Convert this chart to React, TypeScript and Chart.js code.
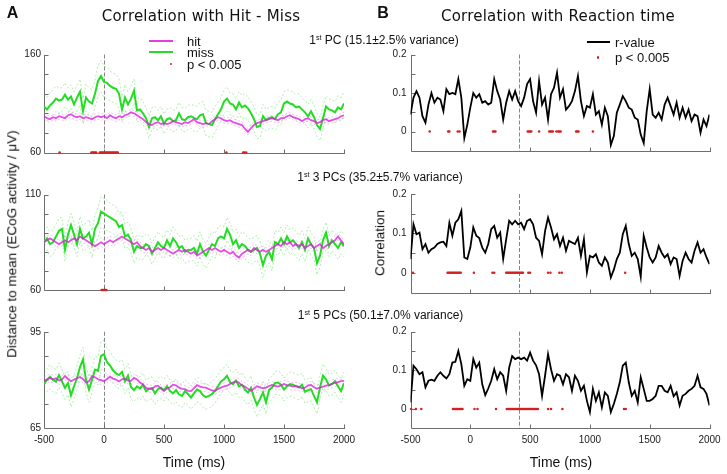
import React, { useEffect, useRef } from "react";
import { Chart, registerables } from "chart.js";

Chart.register(...registerables);

const PAGE_W = 727;
const PAGE_H = 474;

// ---------- data ----------
// sample times (ms), 25 ms apart
const TIME_MS = Array.from({ length: 101 }, (_, i) => -500 + 25 * i);
const X_TICK_STEP = 500;
const X_MIN = -500;
const X_MAX = 2000;
const HM_MARKER_MS = 0;
const RT_MARKER_MS = 410;

// Panel A — distance to mean (µV)
const MISS_PC1 = [
  107, 104, 108, 111, 115, 113, 114, 119, 114, 117,
  109, 116, 122, 102, 116, 112, 110, 120, 133, 138,
  132, 131, 128, 126, 125, 120, 104, 116, 109, 115,
  123, 103, 104, 100, 95, 86, 95, 96, 93, 97,
  89, 94, 95, 92, 93, 100, 94, 93, 96, 97,
  95, 94, 98, 99, 90, 89, 88, 94, 99, 104,
  112, 115, 110, 109, 104, 111, 106, 108, 105, 100,
  94, 86, 87, 97, 93, 95, 96, 94, 99, 101,
  110, 112, 110, 109, 106, 107, 104, 101, 97, 102,
  96, 88, 84, 95, 107, 104, 103, 101, 106, 104,
  110,
];
const HIT_PC1 = [
  97, 95, 94, 96, 95, 97, 96, 95, 98, 99,
  97, 96, 97, 95, 96, 95, 94, 96, 97, 96,
  97, 95, 98, 96, 95, 97, 96, 98, 99, 101,
  100, 98, 96, 94, 91, 89, 88, 90, 91, 89,
  90, 89, 90, 92, 91, 90, 89, 91, 90, 92,
  94, 91, 90, 89, 90, 89, 92, 94, 96, 95,
  93, 92, 93, 91, 90, 89, 88, 84, 81, 85,
  88, 90, 91, 92, 93, 94, 95, 94, 93, 95,
  95, 97, 98, 96, 95, 94, 92, 94, 95, 93,
  92, 90, 91, 93, 94, 92, 93, 94, 95, 97,
  98,
];
const MISS_PC3 = [
  85, 87, 84, 85, 88, 91, 92, 81, 89, 94,
  89, 84, 92, 87, 88, 90, 84, 92, 95, 101,
  100, 99, 98, 97, 96, 93, 94, 88, 89, 86,
  80, 83, 82, 82, 84, 83, 79, 82, 85, 83,
  82, 86, 83, 87, 85, 82, 83, 80, 81, 81,
  82, 79, 84, 80, 78, 81, 84, 83, 87, 88,
  87, 92, 89, 84, 86, 82, 84, 83, 81, 80,
  81, 82, 79, 73, 78, 80, 76, 85, 84, 87,
  84, 88, 85, 86, 84, 82, 85, 81, 87, 84,
  82, 74, 78, 86, 90, 83, 86, 84, 82, 85,
  83,
];
const HIT_PC3 = [
  85, 86, 87, 86, 85, 84, 85, 86, 85, 86,
  87, 86, 88, 87, 86, 85, 84, 83, 84, 85,
  84, 85, 86, 85, 86, 87, 88, 87, 86, 85,
  84, 85, 83, 82, 81, 82, 80, 81, 82, 81,
  82, 81, 80, 79, 80, 81, 80, 81, 80, 79,
  80, 78, 79, 80, 81, 82, 81, 82, 81, 80,
  81, 80, 79, 80, 78, 77, 79, 80, 81, 80,
  82, 81, 80, 81, 80, 81, 82, 83, 84, 83,
  85, 84, 85, 83, 84, 83, 84, 82, 83, 84,
  82, 83, 84, 82, 83, 84, 85, 86, 88, 86,
  84,
];
const MISS_PC5 = [
  78.7, 80, 81, 80, 79.5, 81.5, 79.5, 77.5, 79, 75.2,
  78, 80.5, 84, 86.4, 80, 77, 80, 83.2, 82.8, 87.5,
  88, 85.5, 84.5, 83, 82, 81.5, 82.5, 79.5, 81.3, 77.8,
  76.8, 78, 77.3, 78.5, 76.5, 77.2, 77.5, 75.8, 77.1, 77.6,
  76.8, 78, 76.5, 75.8, 76.8, 75.5, 75, 76.5, 75.6, 74.5,
  75.8, 77, 76.5, 75.2, 74.6, 75, 75.6, 76.6, 78, 79.5,
  80.2, 81.3, 79.3, 78.7, 79.8, 78, 78.5, 77, 76, 77.5,
  74.5, 72.2, 74, 76.1, 73, 76.8, 77.6, 79, 79.2, 78.5,
  77, 78, 78.7, 78.5, 78, 77.6, 78.5, 76.3, 76.8, 77.1,
  75, 73, 77.6, 81.3, 80.2, 78.3, 78.7, 79.6, 78, 76.5,
  79,
];
const HIT_PC5 = [
  79.7, 80.2, 80.6, 80.2, 80.5, 79.8, 80.1, 81.2, 80.3, 79.6,
  80.1, 80.5, 80.9, 80.3, 79.2, 79.6, 81.2, 80.8, 80.2, 79.9,
  79.6, 80.3, 81, 80.4, 80.1, 79.5, 80.2, 80.4, 79.8, 79.7,
  80.6, 80.1, 79.2, 78.6, 77.5, 77.3, 77.1, 78, 78.2, 77.2,
  76.6, 77.3, 77.7, 78.5, 78.3, 77.6, 77.2, 77.1, 76.6, 76.5,
  77.4, 78.4, 77.9, 77.7, 77.6, 77.1, 76.7, 76.6, 77.2, 77.6,
  78, 78.2, 78.7, 79.2, 79.6, 79.1, 78.3, 77.9, 77.2, 76.6,
  77.3, 78, 77.7, 77.4, 77.6, 78.1, 78.4, 78.1, 77.9, 78.3,
  78.7, 78.4, 78.2, 77.9, 78.1, 77.8, 77.4, 77.6, 78.3, 78.4,
  77.7, 77.3, 77.6, 77.9, 78.2, 78.4, 78.8, 79.1, 79.3, 79.6,
  79.7,
];
// standard errors, one value per 100 ms (-500 … 2000)
const SEM_MISS_PC1 = [12, 13, 12, 13, 14, 16, 15, 13, 12, 11, 10, 11, 12, 13, 13, 12, 11, 12, 12, 11, 12, 13, 12, 12, 11, 12];
const SEM_HIT_PC1 = [3.2, 3, 3.1, 3.3, 3, 3.2, 3.4, 3.1, 2.9, 3, 3.1, 3, 3.2, 3.1, 2.9, 3, 3.2, 3.3, 3.1, 3, 2.9, 3, 3.1, 3.2, 3, 3.1];
const SEM_MISS_PC3 = [6, 6.5, 6, 6.5, 7, 8, 7.5, 6.5, 6, 5.5, 5.5, 6, 6, 6.5, 6.5, 6, 6, 6.5, 6.5, 6, 6, 6.5, 6, 6, 5.5, 6];
const SEM_HIT_PC3 = [2, 2.1, 2, 2.2, 2.1, 2.3, 2.2, 2, 1.9, 2, 2.1, 2, 1.9, 2, 2.1, 2, 2.2, 2.1, 2, 1.9, 2, 2.1, 2, 2, 2.1, 2];
const SEM_MISS_PC5 = [3.5, 3.8, 3.6, 3.8, 4, 4.4, 4.2, 3.8, 3.6, 3.4, 3.4, 3.5, 3.6, 3.8, 3.8, 3.6, 3.6, 3.8, 3.7, 3.6, 3.6, 3.8, 3.6, 3.6, 3.4, 3.5];
const SEM_HIT_PC5 = [1.2, 1.2, 1.1, 1.3, 1.2, 1.3, 1.2, 1.1, 1.1, 1.2, 1.2, 1.1, 1.1, 1.2, 1.2, 1.1, 1.2, 1.2, 1.1, 1.1, 1.2, 1.2, 1.1, 1.2, 1.2, 1.1];

// significant time points (ms), p < 0.005
const SIG_HM_PC1 = [-370, -105, -95, -85, -75, -65, -35, -25, -15, -5, 5, 15, 25, 35, 45, 55, 65, 75, 85, 95, 105, 115, 1020, 1160, 1170, 1185];
const SIG_HM_PC3 = [-20, -10, 0, 10, 20];
const SIG_HM_PC5: number[] = [];

// Panel B — correlation with reaction time
const R_PC1 = [
  0.044, 0.088, 0.105, 0.088, 0.04, 0.023, 0.07, 0.1, 0.075, 0.088,
  0.083, 0.053, 0.11, 0.097, 0.1, 0.097, 0.136, 0.088, -0.017, 0.018,
  0.062, 0.1, 0.088, 0.097, 0.075, 0.079, 0.07, 0.075, 0.136, 0.105,
  0.083, 0.031, 0.075, 0.105, 0.083, 0.105, 0.079, 0.066, 0.088, 0.123,
  0.136, 0.079, 0.049, 0.131, 0.07, 0.088, 0.031, 0.097, 0.114, 0.153,
  0.088, 0.11, 0.057, 0.066, 0.079, 0.105, 0.144, 0.079, 0.04, 0.066,
  0.062, 0.097, 0.044, 0.053, 0.018, 0.062, 0.04, -0.035, -0.012, 0.049,
  0.07, 0.092, 0.079, 0.062, 0.057, 0.036, 0.031, -0.008, -0.03, 0.053,
  0.11, 0.044, 0.036, 0.049, 0.031, 0.07, 0.088, 0.066, 0.044, 0.075,
  0.036, 0.062, 0.036, 0.057, 0.027, 0.044, 0.04, -0.003, 0.031, 0.014,
  0.044,
];
const R_PC3 = [
  0.035, 0.123, 0.098, 0.102, 0.06, 0.073, 0.051, 0.06, 0.064, 0.073,
  0.077, 0.079, 0.068, 0.127, 0.094, 0.127, 0.136, 0.157, 0.039, 0.035,
  0.064, 0.115, 0.094, 0.088, 0.064, 0.051, 0.073, 0.111, 0.119, 0.089,
  0.102, 0.035, 0.085, 0.132, 0.123, 0.132, 0.123, 0.127, 0.111, 0.132,
  0.136, 0.123, 0.089, 0.081, 0.047, 0.106, 0.14, 0.115, 0.085, 0.098,
  0.068, 0.089, 0.056, 0.081, 0.077, 0.073, 0.089, 0.043, 0.085, 0.001,
  0.043, 0.039, 0.047, 0.026, 0.018, 0.039, 0.026, -0.012, 0.008, 0.035,
  0.051, 0.098, 0.119, 0.073, 0.043, 0.051, 0.035, -0.01, 0.094, 0.064,
  0.039, 0.026, 0.039, 0.068, 0.051, 0.039, 0.047, 0.022, 0.039, 0.035,
  -0.008, 0.03, 0.051, 0.035, 0.026, 0.056, 0.077, 0.051, 0.06, 0.039,
  0.022,
];
const R_PC5 = [
  0.017, 0.112, 0.103, 0.09, 0.095, 0.056, 0.073, 0.076, 0.073, 0.086,
  0.095, 0.086, 0.079, 0.09, 0.12, 0.122, 0.15, 0.116, 0.06, 0.077,
  0.073, 0.129, 0.107, 0.12, 0.064, 0.036, 0.053, 0.073, 0.103, 0.077,
  0.095, 0.086, 0.047, 0.107, 0.137, 0.129, 0.133, 0.129, 0.133, 0.125,
  0.146, 0.125, 0.113, 0.09, 0.034, 0.086, 0.142, 0.103, 0.073, 0.09,
  0.086, 0.064, 0.09, 0.082, 0.047, 0.086, 0.073, 0.047, 0.06, 0.021,
  -0.008, 0.052, 0.021, 0.043, 0.004, 0.043, 0.034, -0.008, 0.013, 0.039,
  0.069, 0.112, 0.12, 0.069, 0.034, 0.047, 0.017, 0.082, 0.052, 0.021,
  0.021, 0.026, 0.034, 0.06, 0.06, 0.047, 0.043, 0.06, 0.033, 0.043,
  0.009, 0.034, 0.039, 0.047, 0.052, 0.06, 0.086, 0.056, 0.052, 0.039,
  0.009,
];
const SIG_RT_PC1 = [-340, -185, -175, -105, -90, 190, 200, 210, 480, 490, 500, 510, 575, 660, 670, 680, 690, 720, 735, 745, 755, 885, 895, 905, 1025];
const SIG_RT_PC3 = [-480, -190, -180, -170, -160, -150, -140, -130, -120, -110, -100, -90, -80, 30, 185, 200, 300, 310, 320, 330, 340, 350, 360, 370, 380, 390, 400, 410, 420, 430, 440, 485, 500, 650, 670, 745, 765, 1295];
const SIG_RT_PC5 = [-495, -455, -410, -145, -135, -125, -115, -105, -95, -85, -75, -65, 35, 60, 215, 305, 315, 325, 335, 345, 355, 365, 375, 385, 395, 405, 415, 425, 435, 445, 455, 465, 475, 485, 495, 505, 515, 525, 535, 545, 555, 565, 650, 675, 770, 1285, 1300];

const RT_Y_LABEL_VALUES = [0, 0.1, 0.2];
const RT_Y_LABEL_TEXT = ["0", "0.1", "0.2"];

// ---------- text ----------
const TITLE_A = "Correlation with Hit - Miss";
const TITLE_B = "Correlation with Reaction time";
const SUBTITLES = [
  " PC (15.1±2.5% variance)",
  " 3 PCs (35.2±5.7% variance)",
  " 5 PCs (50.1±7.0% variance)",
];
const Y_TITLE_A = "Distance to mean (ECoG activity / μV)";
const Y_TITLE_B = "Correlation";
const X_TITLE = "Time (ms)";

// ---------- styles ----------
const SANS = "'Liberation Sans', Arial, sans-serif";
const TITLE_FONT = "'DejaVu Sans', Verdana, sans-serif";
const MISS_COLOR = "#22dd22";
const HIT_COLOR = "rgba(222, 30, 222, 0.78)";
const MISS_BAND = "rgba(70, 215, 70, 0.6)";
const HIT_BAND = "rgba(225, 90, 225, 0.55)";
const R_COLOR = "#000000";
const SIG_COLOR = "#d42020";
const AXIS_COLOR = "#6e6e6e";
const TICK_TEXT = "#1a1a1a";
const Y_AXIS_W = 40;
const X_AXIS_H = 24;

type Spec = {
  kind: "hm" | "rt";
  box: [number, number, number, number];
  yMin: number;
  yMax: number;
  yStep: number;
  marker: number;
  showX: boolean;
  sig: number[];
  sigY: number;
  miss?: number[];
  hit?: number[];
  semMiss?: number[];
  semHit?: number[];
  r?: number[];
};

const SPECS: Spec[] = [
  { kind: "hm", box: [44, 54.5, 344, 152.5], yMin: 60, yMax: 160, yStep: 20, marker: HM_MARKER_MS, showX: false, sig: SIG_HM_PC1, sigY: 60, miss: MISS_PC1, hit: HIT_PC1, semMiss: SEM_MISS_PC1, semHit: SEM_HIT_PC1 },
  { kind: "hm", box: [44, 194.5, 344, 290], yMin: 60, yMax: 110, yStep: 10, marker: HM_MARKER_MS, showX: false, sig: SIG_HM_PC3, sigY: 60, miss: MISS_PC3, hit: HIT_PC3, semMiss: SEM_MISS_PC3, semHit: SEM_HIT_PC3 },
  { kind: "hm", box: [44, 331.8, 344, 428], yMin: 65, yMax: 95, yStep: 7.5, marker: HM_MARKER_MS, showX: true, sig: SIG_HM_PC5, sigY: 65, miss: MISS_PC5, hit: HIT_PC5, semMiss: SEM_MISS_PC5, semHit: SEM_HIT_PC5 },
  { kind: "rt", box: [410.5, 54.5, 709.5, 150.8], yMin: -0.05, yMax: 0.2, yStep: 0.05, marker: RT_MARKER_MS, showX: false, sig: SIG_RT_PC1, sigY: 0, r: R_PC1 },
  { kind: "rt", box: [410.5, 194, 709.5, 292.5], yMin: -0.05, yMax: 0.2, yStep: 0.05, marker: RT_MARKER_MS, showX: false, sig: SIG_RT_PC3, sigY: 0, r: R_PC3 },
  { kind: "rt", box: [410.5, 331.7, 709.5, 428.3], yMin: -0.05, yMax: 0.2, yStep: 0.05, marker: RT_MARKER_MS, showX: true, sig: SIG_RT_PC5, sigY: 0, r: R_PC5 },
];

const crisp = (v: number) => Math.round(v) + 0.5;

function axesPlugin(markerX: number) {
  return {
    id: "panelAxes",
    beforeDatasetsDraw(chart: any) {
      const { ctx, chartArea: a, scales } = chart;
      const x = scales.x;
      const y = scales.y;
      ctx.save();
      const mx = crisp(x.getPixelForValue(markerX));
      ctx.strokeStyle = "#858585";
      ctx.lineWidth = 1;
      ctx.setLineDash([4, 2]);
      ctx.beginPath();
      ctx.moveTo(mx, a.top);
      ctx.lineTo(mx, a.bottom);
      ctx.stroke();
      ctx.setLineDash([]);
      const L = crisp(a.left);
      const B = crisp(a.bottom);
      ctx.strokeStyle = AXIS_COLOR;
      ctx.beginPath();
      ctx.moveTo(L, Math.round(a.top));
      ctx.lineTo(L, B);
      ctx.lineTo(Math.round(a.right) + 1, B);
      y.ticks.forEach((t: any) => {
        const py = y.getPixelForValue(t.value);
        if (Math.abs(py - a.bottom) < 1) return;
        ctx.moveTo(L, crisp(py));
        ctx.lineTo(L + 4, crisp(py));
      });
      x.ticks.forEach((t: any) => {
        const px = x.getPixelForValue(t.value);
        if (Math.abs(px - a.left) < 1) return;
        ctx.moveTo(crisp(px), B);
        ctx.lineTo(crisp(px), B - 4);
      });
      ctx.stroke();
      ctx.restore();
    },
  };
}

function lineDs(data: any[], color: string, width: number, dash: number[] = []) {
  return { data, borderColor: color, borderWidth: width, borderDash: dash, pointRadius: 0, fill: false, tension: 0 };
}

function buildConfig(s: Spec): any {
  const pts = (vals: number[]) => TIME_MS.map((t, i) => ({ x: t, y: vals[i] }));
  const band = (vals: number[], sem: number[], sign: number) =>
    TIME_MS.map((t, i) => ({ x: t, y: vals[i] + sign * sem[Math.round(i / 4)] }));
  const dots = {
    data: s.sig.map((t) => ({ x: t, y: s.sigY })),
    showLine: false,
    pointRadius: 1.25,
    pointBackgroundColor: SIG_COLOR,
    pointBorderWidth: 0,
    borderColor: SIG_COLOR,
    clip: 6,
  };
  let datasets: any[];
  if (s.kind === "hm") {
    datasets = [
      dots,
      lineDs(pts(s.hit!), HIT_COLOR, 1.8),
      lineDs(pts(s.miss!), MISS_COLOR, 2),
      lineDs(band(s.hit!, s.semHit!, 1), HIT_BAND, 0.7, [2, 2]),
      lineDs(band(s.hit!, s.semHit!, -1), HIT_BAND, 0.7, [2, 2]),
      lineDs(band(s.miss!, s.semMiss!, 1), MISS_BAND, 0.7, [2, 2]),
      lineDs(band(s.miss!, s.semMiss!, -1), MISS_BAND, 0.7, [2, 2]),
    ];
  } else {
    datasets = [dots, lineDs(pts(s.r!), R_COLOR, 1.8)];
  }
  const [l, t, r, b] = s.box;
  const xh = s.showX ? X_AXIS_H : 0;
  const yCallback = (v: number) => {
    if (s.kind === "hm") {
      return Math.abs(v - s.yMin) < 1e-9 || Math.abs(v - s.yMax) < 1e-9 ? String(v) : "";
    }
    const idx = RT_Y_LABEL_VALUES.findIndex((q) => Math.abs(q - v) < 1e-9);
    return idx >= 0 ? RT_Y_LABEL_TEXT[idx] : "";
  };
  return {
    type: "line",
    data: { datasets },
    plugins: [axesPlugin(s.marker)],
    options: {
      responsive: false,
      animation: false,
      events: [],
      layout: { padding: { left: l - Y_AXIS_W, top: t, right: PAGE_W - r, bottom: PAGE_H - b - xh } },
      plugins: { legend: { display: false }, tooltip: { enabled: false } },
      scales: {
        x: {
          type: "linear",
          min: X_MIN,
          max: X_MAX,
          afterFit: (sc: any) => { sc.height = xh; },
          grid: { display: false, drawTicks: false },
          border: { display: false },
          ticks: {
            display: s.showX,
            stepSize: X_TICK_STEP,
            maxRotation: 0,
            autoSkip: false,
            padding: 6,
            color: TICK_TEXT,
            font: { family: SANS, size: 10 },
            callback: (v: number) => String(v),
          },
        },
        y: {
          type: "linear",
          min: s.yMin,
          max: s.yMax,
          afterFit: (sc: any) => { sc.width = Y_AXIS_W; },
          grid: { display: false, drawTicks: false },
          border: { display: false },
          ticks: {
            stepSize: s.yStep,
            autoSkip: false,
            padding: s.kind === "hm" ? 3 : 4,
            color: TICK_TEXT,
            font: { family: SANS, size: 10 },
            callback: yCallback,
          },
        },
      },
    },
  };
}

function PanelCanvas({ spec }: { spec: Spec }) {
  const ref = useRef<HTMLCanvasElement | null>(null);
  useEffect(() => {
    const chart = new Chart(ref.current as HTMLCanvasElement, buildConfig(spec));
    return () => chart.destroy();
  }, [spec]);
  return (
    <canvas
      ref={ref}
      width={PAGE_W}
      height={PAGE_H}
      style={{ position: "absolute", left: 0, top: 0, width: PAGE_W, height: PAGE_H }}
    />
  );
}

function Txt(props: {
  x: number; y: number; size: number; family?: string; weight?: any;
  anchor?: "middle" | "start"; rotate?: number; spacing?: number; children: any;
}) {
  const { x, y, size, family = SANS, weight = "normal", anchor = "middle", rotate = 0, spacing = 0, children } = props;
  const tx = anchor === "middle" ? "-50%" : "0";
  return (
    <div
      style={{
        position: "absolute", left: x, top: y, fontSize: size, fontFamily: family, fontWeight: weight,
        lineHeight: 1, whiteSpace: "nowrap", color: "#111", letterSpacing: spacing,
        transform: `translate(${tx}, -50%) rotate(${rotate}deg)`, transformOrigin: anchor === "middle" ? "center" : "left center",
      }}
    >
      {children}
    </div>
  );
}

function Sub({ x, y, text }: { x: number; y: number; text: string }) {
  return (
    <Txt x={x} y={y} size={12}>
      1<span style={{ fontSize: "0.6em", position: "relative", top: "-0.6em" }}>st</span>
      {text}
    </Txt>
  );
}

function LegendLine({ x1, x2, y, color }: { x1: number; x2: number; y: number; color: string }) {
  return <div style={{ position: "absolute", left: x1, top: y - 1, width: x2 - x1, height: 2, background: color }} />;
}
function LegendDot({ x, y }: { x: number; y: number }) {
  return <div style={{ position: "absolute", left: x - 1.3, top: y - 1.3, width: 2.6, height: 2.6, borderRadius: "50%", background: SIG_COLOR }} />;
}

export default function App() {
  return (
    <div style={{ position: "fixed", left: 0, top: 0, width: PAGE_W, height: PAGE_H, background: "#fff", overflow: "hidden" }}>
      {SPECS.map((s, i) => (
        <PanelCanvas key={i} spec={s} />
      ))}
      <Txt x={12.5} y={13} size={16} weight="bold">A</Txt>
      <Txt x={201} y={15.5} size={15} family={TITLE_FONT} spacing={0.2}>{TITLE_A}</Txt>
      <Txt x={383} y={13.3} size={16} weight="bold">B</Txt>
      <Txt x={558} y={15.5} size={15} family={TITLE_FONT} spacing={0.2}>{TITLE_B}</Txt>

      <Sub x={384} y={40} text={SUBTITLES[0]} />
      <Sub x={380} y={177} text={SUBTITLES[1]} />
      <Sub x={380.5} y={315} text={SUBTITLES[2]} />

      <LegendLine x1={149} x2={173} y={40.7} color="#e040e0" />
      <LegendLine x1={149} x2={173} y={52.3} color={MISS_COLOR} />
      <LegendDot x={171} y={64} />
      <Txt x={187} y={40.7} size={13} anchor="start">hit</Txt>
      <Txt x={187} y={52.3} size={13} anchor="start">miss</Txt>
      <Txt x={187} y={64} size={13} anchor="start">p &lt; 0.005</Txt>

      <LegendLine x1={587} x2={610} y={42.3} color={R_COLOR} />
      <LegendDot x={598} y={57.3} />
      <Txt x={615} y={42.3} size={13} anchor="start">r-value</Txt>
      <Txt x={615} y={57.3} size={13} anchor="start">p &lt; 0.005</Txt>

      <Txt x={12} y={243.5} size={13.5} rotate={-90}>{Y_TITLE_A}</Txt>
      <Txt x={380} y={242.5} size={13.5} rotate={-90}>{Y_TITLE_B}</Txt>
      <Txt x={194} y={461.5} size={14}>{X_TITLE}</Txt>
      <Txt x={561} y={461.5} size={14}>{X_TITLE}</Txt>
    </div>
  );
}
